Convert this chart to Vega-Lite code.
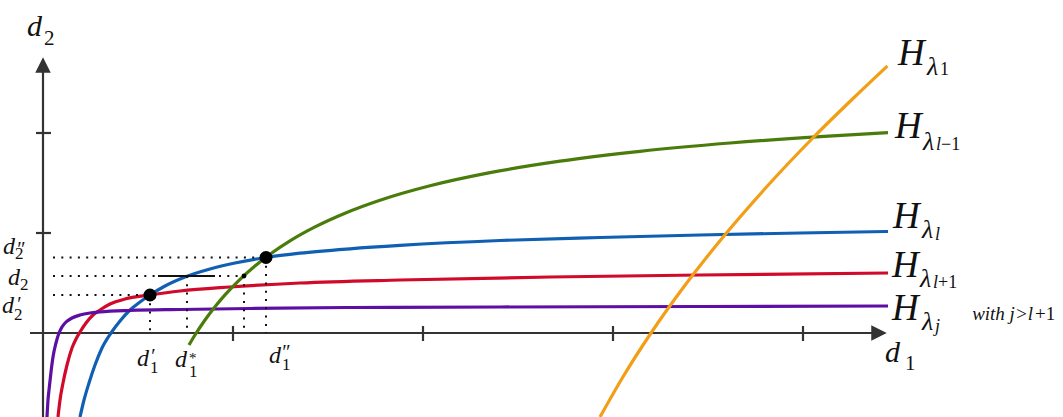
{
  "$schema": "https://vega.github.io/schema/vega-lite/v6.json",
  "width": 1063,
  "height": 417,
  "autosize": {"type": "none"},
  "padding": 0,
  "background": "white",
  "config": {"view": {"stroke": null}},
  "datasets": {
    "curves": [
      {"curve": "red", "x": 0.0789, "y": -0.84},
      {"curve": "red", "x": 0.0895, "y": -0.67},
      {"curve": "red", "x": 0.1053, "y": -0.50},
      {"curve": "red", "x": 0.1263, "y": -0.32},
      {"curve": "red", "x": 0.1526, "y": -0.15},
      {"curve": "red", "x": 0.1737, "y": -0.06},
      {"curve": "red", "x": 0.1947, "y": 0.01},
      {"curve": "red", "x": 0.2263, "y": 0.10},
      {"curve": "red", "x": 0.2632, "y": 0.18},
      {"curve": "red", "x": 0.3000, "y": 0.23},
      {"curve": "red", "x": 0.3526, "y": 0.29},
      {"curve": "red", "x": 0.4316, "y": 0.34},
      {"curve": "red", "x": 0.5632, "y": 0.38},
      {"curve": "red", "x": 0.7211, "y": 0.42},
      {"curve": "red", "x": 0.9842, "y": 0.46},
      {"curve": "red", "x": 1.3526, "y": 0.50},
      {"curve": "red", "x": 1.8789, "y": 0.53},
      {"curve": "red", "x": 2.6684, "y": 0.56},
      {"curve": "red", "x": 3.4579, "y": 0.58},
      {"curve": "red", "x": 4.4474, "y": 0.60},
      {"curve": "blue", "x": 0.1947, "y": -0.84},
      {"curve": "blue", "x": 0.2158, "y": -0.67},
      {"curve": "blue", "x": 0.2421, "y": -0.50},
      {"curve": "blue", "x": 0.2737, "y": -0.32},
      {"curve": "blue", "x": 0.3105, "y": -0.15},
      {"curve": "blue", "x": 0.3579, "y": 0.0},
      {"curve": "blue", "x": 0.4053, "y": 0.12},
      {"curve": "blue", "x": 0.4579, "y": 0.23},
      {"curve": "blue", "x": 0.5105, "y": 0.31},
      {"curve": "blue", "x": 0.5632, "y": 0.38},
      {"curve": "blue", "x": 0.6421, "y": 0.47},
      {"curve": "blue", "x": 0.7474, "y": 0.56},
      {"curve": "blue", "x": 0.8789, "y": 0.64},
      {"curve": "blue", "x": 1.0105, "y": 0.70},
      {"curve": "blue", "x": 1.1737, "y": 0.755},
      {"curve": "blue", "x": 1.3526, "y": 0.798},
      {"curve": "blue", "x": 1.6158, "y": 0.842},
      {"curve": "blue", "x": 1.8789, "y": 0.876},
      {"curve": "blue", "x": 2.4053, "y": 0.925},
      {"curve": "blue", "x": 2.9316, "y": 0.955},
      {"curve": "blue", "x": 3.4579, "y": 0.98},
      {"curve": "blue", "x": 3.9842, "y": 1.00},
      {"curve": "blue", "x": 4.4474, "y": 1.015},
      {"curve": "purple", "x": 0.0211, "y": -0.84},
      {"curve": "purple", "x": 0.0263, "y": -0.67},
      {"curve": "purple", "x": 0.0316, "y": -0.57},
      {"curve": "purple", "x": 0.0421, "y": -0.39},
      {"curve": "purple", "x": 0.0526, "y": -0.24},
      {"curve": "purple", "x": 0.0684, "y": -0.10},
      {"curve": "purple", "x": 0.0842, "y": 0.0},
      {"curve": "purple", "x": 0.1000, "y": 0.06},
      {"curve": "purple", "x": 0.1211, "y": 0.11},
      {"curve": "purple", "x": 0.1526, "y": 0.15},
      {"curve": "purple", "x": 0.1947, "y": 0.18},
      {"curve": "purple", "x": 0.2474, "y": 0.20},
      {"curve": "purple", "x": 0.3000, "y": 0.21},
      {"curve": "purple", "x": 0.4579, "y": 0.225},
      {"curve": "purple", "x": 0.7211, "y": 0.235},
      {"curve": "purple", "x": 1.0895, "y": 0.245},
      {"curve": "purple", "x": 1.6158, "y": 0.255},
      {"curve": "purple", "x": 2.4053, "y": 0.26},
      {"curve": "purple", "x": 3.4579, "y": 0.265},
      {"curve": "purple", "x": 4.4474, "y": 0.27},
      {"curve": "green", "x": 0.7684, "y": -0.1196},
      {"curve": "green", "x": 0.8000, "y": -0.0199},
      {"curve": "green", "x": 0.8526, "y": 0.1301},
      {"curve": "green", "x": 0.9053, "y": 0.263},
      {"curve": "green", "x": 0.9579, "y": 0.3816},
      {"curve": "green", "x": 1.0368, "y": 0.5372},
      {"curve": "green", "x": 1.1158, "y": 0.671},
      {"curve": "green", "x": 1.1947, "y": 0.7874},
      {"curve": "green", "x": 1.3000, "y": 0.9209},
      {"curve": "green", "x": 1.4316, "y": 1.0605},
      {"curve": "green", "x": 1.5895, "y": 1.1977},
      {"curve": "green", "x": 1.7737, "y": 1.3273},
      {"curve": "green", "x": 2.0368, "y": 1.472},
      {"curve": "green", "x": 2.3526, "y": 1.6032},
      {"curve": "green", "x": 2.7211, "y": 1.718},
      {"curve": "green", "x": 3.1421, "y": 1.8164},
      {"curve": "green", "x": 3.6158, "y": 1.8998},
      {"curve": "green", "x": 4.0895, "y": 1.964},
      {"curve": "green", "x": 4.4474, "y": 2.0034},
      {"curve": "orange", "x": 2.9316, "y": -0.84},
      {"curve": "orange", "x": 3.0521, "y": -0.44},
      {"curve": "orange", "x": 3.2000, "y": 0.0},
      {"curve": "orange", "x": 3.3721, "y": 0.46},
      {"curve": "orange", "x": 3.5795, "y": 0.96},
      {"curve": "orange", "x": 3.8079, "y": 1.46},
      {"curve": "orange", "x": 4.0568, "y": 1.96},
      {"curve": "orange", "x": 4.2716, "y": 2.36},
      {"curve": "orange", "x": 4.4442, "y": 2.67}
    ],
    "axisrules": [
      {"x": -0.0684, "y": 0.0, "x2": 4.40, "y2": 0.0},
      {"x": 0.0, "y": -0.84, "x2": 0.0, "y2": 2.68},
      {"x": -0.0368, "y": 1.0, "x2": 0.0421, "y2": 1.0},
      {"x": -0.0368, "y": 2.0, "x2": 0.0421, "y2": 2.0},
      {"x": 1.0, "y": -0.08, "x2": 1.0, "y2": 0.07},
      {"x": 2.0, "y": -0.08, "x2": 2.0, "y2": 0.07},
      {"x": 3.0, "y": -0.08, "x2": 3.0, "y2": 0.07},
      {"x": 4.0, "y": -0.08, "x2": 4.0, "y2": 0.07}
    ],
    "arrowup": [{"x": 0.0, "y": 2.68}],
    "arrowright": [{"x": 4.40, "y": 0.0}],
    "dotted": [
      {"x": 0.0526, "y": 0.755, "x2": 1.1737, "y2": 0.755},
      {"x": 0.0526, "y": 0.57, "x2": 1.0579, "y2": 0.57},
      {"x": 0.0526, "y": 0.38, "x2": 0.5632, "y2": 0.38},
      {"x": 0.5632, "y": 0.38, "x2": 0.5632, "y2": 0.0},
      {"x": 0.7579, "y": 0.57, "x2": 0.7579, "y2": 0.0},
      {"x": 1.0579, "y": 0.57, "x2": 1.0579, "y2": 0.0},
      {"x": 1.1737, "y": 0.755, "x2": 1.1737, "y2": 0.0}
    ],
    "segment": [{"x": 0.6053, "y": 0.57, "x2": 0.9053, "y2": 0.57}],
    "bigdots": [{"x": 0.5632, "y": 0.38}, {"x": 1.1737, "y": 0.755}],
    "smalldots": [{"x": 1.0579, "y": 0.57}],
    "bigd": [
      {"x": -0.0842, "y": 2.97, "text": "d"},
      {"x": 4.4316, "y": -0.29, "text": "d"}
    ],
    "bigsub": [
      {"x": 0.0053, "y": 2.88, "text": "2"},
      {"x": 4.5368, "y": -0.37, "text": "1"}
    ],
    "smalld": [
      {"x": -0.2105, "y": 0.79, "text": "d"},
      {"x": -0.1842, "y": 0.48, "text": "d"},
      {"x": -0.2158, "y": 0.20, "text": "d"},
      {"x": 0.4947, "y": -0.33, "text": "d"},
      {"x": 0.6947, "y": -0.34, "text": "d"},
      {"x": 1.1895, "y": -0.30, "text": "d"}
    ],
    "primes": [
      {"x": -0.1421, "y": 0.77, "text": "″"},
      {"x": -0.1421, "y": 0.22, "text": "′"},
      {"x": 0.5632, "y": -0.30, "text": "′"},
      {"x": 1.2526, "y": -0.26, "text": "″"}
    ],
    "star": [{"x": 0.7684, "y": -0.30, "text": "*"}],
    "smallsub": [
      {"x": -0.1474, "y": 0.74, "text": "2"},
      {"x": -0.1211, "y": 0.43, "text": "2"},
      {"x": -0.1526, "y": 0.13, "text": "2"},
      {"x": 0.5632, "y": -0.40, "text": "1"},
      {"x": 0.7684, "y": -0.44, "text": "1"},
      {"x": 1.2579, "y": -0.37, "text": "1"}
    ],
    "hs": [
      {"x": 4.5, "y": 2.68, "text": "H"},
      {"x": 4.4842, "y": 1.95, "text": "H"},
      {"x": 4.4737, "y": 1.05, "text": "H"},
      {"x": 4.4684, "y": 0.56, "text": "H"},
      {"x": 4.4684, "y": 0.13, "text": "H"}
    ],
    "lambdas": [
      {"x": 4.6526, "y": 2.58, "text": "λ"},
      {"x": 4.6316, "y": 1.83, "text": "λ"},
      {"x": 4.6263, "y": 0.95, "text": "λ"},
      {"x": 4.6158, "y": 0.46, "text": "λ"},
      {"x": 4.6263, "y": 0.03, "text": "λ"}
    ],
    "subsubit": [
      {"x": 4.7, "y": 1.83, "text": "l"},
      {"x": 4.6947, "y": 0.93, "text": "l"},
      {"x": 4.6842, "y": 0.45, "text": "l"},
      {"x": 4.6947, "y": 0.01, "text": "j"}
    ],
    "subsubup": [
      {"x": 4.7211, "y": 2.58, "text": "1"},
      {"x": 4.7263, "y": 1.83, "text": "−1"},
      {"x": 4.7105, "y": 0.45, "text": "+1"}
    ],
    "withit": [{"x": 5.2105, "y": 0.13, "text": "with j>l"}],
    "withup": [{"x": 5.2211, "y": 0.13, "text": "+1"}]
  },
  "encoding": {
    "x": {"field": "x", "type": "quantitative", "scale": {"domain": [-0.22632, 5.36842], "nice": false, "zero": false}, "axis": null},
    "y": {"field": "y", "type": "quantitative", "scale": {"domain": [-0.84, 3.33], "nice": false, "zero": false}, "axis": null}
  },
  "layer": [
    {
      "data": {"name": "axisrules"},
      "mark": {"type": "rule", "color": "#333333", "strokeWidth": 2.2},
      "encoding": {"x2": {"field": "x2"}, "y2": {"field": "y2"}}
    },
    {
      "data": {"name": "arrowup"},
      "mark": {"type": "point", "shape": "M0,-1L1,1L-1,1Z", "size": 240, "filled": true, "color": "#333333", "opacity": 1, "strokeWidth": 0}
    },
    {
      "data": {"name": "arrowright"},
      "mark": {"type": "point", "shape": "M1,0L-1,-1L-1,1Z", "size": 240, "filled": true, "color": "#333333", "opacity": 1, "strokeWidth": 0}
    },
    {
      "data": {"name": "curves"},
      "mark": {"type": "line", "strokeWidth": 3.2, "interpolate": "monotone", "clip": true},
      "encoding": {
        "color": {"field": "curve", "type": "nominal", "scale": {"domain": ["red", "blue", "purple", "green", "orange"], "range": ["#d10a2a", "#105fb3", "#5d0fa3", "#4a7c0b", "#f29e16"]}, "legend": null}
      }
    },
    {
      "data": {"name": "dotted"},
      "mark": {"type": "rule", "color": "#111111", "strokeWidth": 2, "strokeDash": [2, 6.3]},
      "encoding": {"x2": {"field": "x2"}, "y2": {"field": "y2"}}
    },
    {
      "data": {"name": "segment"},
      "mark": {"type": "rule", "color": "#111111", "strokeWidth": 2},
      "encoding": {"x2": {"field": "x2"}, "y2": {"field": "y2"}}
    },
    {
      "data": {"name": "bigdots"},
      "mark": {"type": "point", "shape": "circle", "size": 170, "filled": true, "color": "#000000", "opacity": 1}
    },
    {
      "data": {"name": "smalldots"},
      "mark": {"type": "point", "shape": "circle", "size": 24, "filled": true, "color": "#000000", "opacity": 1}
    },
    {
      "data": {"name": "bigd"},
      "mark": {"type": "text", "font": "Liberation Serif", "fontStyle": "italic", "fontSize": 30, "align": "left", "baseline": "alphabetic", "color": "#111111"},
      "encoding": {"text": {"field": "text"}}
    },
    {
      "data": {"name": "bigsub"},
      "mark": {"type": "text", "font": "Liberation Serif", "fontSize": 21, "align": "left", "baseline": "alphabetic", "color": "#111111"},
      "encoding": {"text": {"field": "text"}}
    },
    {
      "data": {"name": "smalld"},
      "mark": {"type": "text", "font": "Liberation Serif", "fontStyle": "italic", "fontSize": 24, "align": "left", "baseline": "alphabetic", "color": "#111111"},
      "encoding": {"text": {"field": "text"}}
    },
    {
      "data": {"name": "primes"},
      "mark": {"type": "text", "font": "Liberation Serif", "fontStyle": "italic", "fontSize": 20, "align": "left", "baseline": "alphabetic", "color": "#111111"},
      "encoding": {"text": {"field": "text"}}
    },
    {
      "data": {"name": "star"},
      "mark": {"type": "text", "font": "Liberation Serif", "fontSize": 15, "align": "left", "baseline": "alphabetic", "color": "#111111"},
      "encoding": {"text": {"field": "text"}}
    },
    {
      "data": {"name": "smallsub"},
      "mark": {"type": "text", "font": "Liberation Serif", "fontSize": 17, "align": "left", "baseline": "alphabetic", "color": "#111111"},
      "encoding": {"text": {"field": "text"}}
    },
    {
      "data": {"name": "hs"},
      "mark": {"type": "text", "font": "Liberation Serif", "fontStyle": "italic", "fontSize": 37, "align": "left", "baseline": "alphabetic", "color": "#111111"},
      "encoding": {"text": {"field": "text"}}
    },
    {
      "data": {"name": "lambdas"},
      "mark": {"type": "text", "font": "Liberation Serif", "fontStyle": "italic", "fontSize": 26, "align": "left", "baseline": "alphabetic", "color": "#111111"},
      "encoding": {"text": {"field": "text"}}
    },
    {
      "data": {"name": "subsubit"},
      "mark": {"type": "text", "font": "Liberation Serif", "fontStyle": "italic", "fontSize": 18, "align": "left", "baseline": "alphabetic", "color": "#111111"},
      "encoding": {"text": {"field": "text"}}
    },
    {
      "data": {"name": "subsubup"},
      "mark": {"type": "text", "font": "Liberation Serif", "fontSize": 18, "align": "left", "baseline": "alphabetic", "color": "#111111"},
      "encoding": {"text": {"field": "text"}}
    },
    {
      "data": {"name": "withit"},
      "mark": {"type": "text", "font": "Liberation Serif", "fontStyle": "italic", "fontSize": 19, "align": "right", "baseline": "alphabetic", "color": "#111111"},
      "encoding": {"text": {"field": "text"}}
    },
    {
      "data": {"name": "withup"},
      "mark": {"type": "text", "font": "Liberation Serif", "fontSize": 19, "align": "left", "baseline": "alphabetic", "color": "#111111"},
      "encoding": {"text": {"field": "text"}}
    }
  ]
}
